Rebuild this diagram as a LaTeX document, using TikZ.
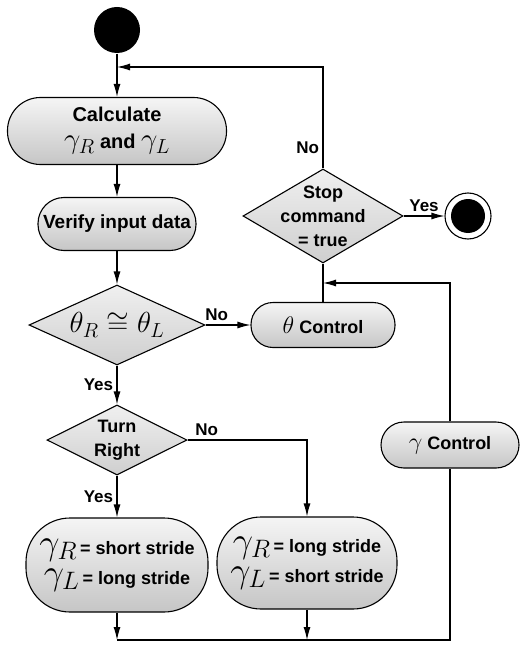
\RequirePackage{fix-cm}
\documentclass[tikz,border=0pt]{standalone}
\usepackage{fontspec}
\setmainfont{Liberation Sans}
\usetikzlibrary{shapes.geometric,arrows.meta}
\newcommand{\mth}[2][24]{{\fontsize{#1}{#1}\selectfont$#2$}}
\begin{document}
\begin{tikzpicture}[x=1pt,y=-1pt,line width=1.1pt,
    act/.style={draw,top color=gray!8,bottom color=gray!45,align=center,
      font=\fontsize{18}{22}\selectfont\bfseries,inner sep=2pt},
    dec/.style={diamond,draw,top color=gray!12,bottom color=gray!38,inner sep=0pt},
    dtxt/.style={align=center,font=\fontsize{18}{24}\selectfont\bfseries,inner sep=0pt},
    lbl/.style={font=\fontsize{17}{19}\selectfont\bfseries},
    arr/.style={-{Latex[length=13pt,width=7pt]}}]
    \useasboundingbox (0,0) rectangle (520,647);
    % left column
    \node[circle,fill=black,minimum size=46pt,inner sep=0pt] (start) at (117,30) {};
    \coordinate (back) at (117,67);
    \node[act,minimum width=219pt,minimum height=67pt,rounded corners=33pt,
        font=\fontsize{20}{27}\selectfont\bfseries] (calc) at (117,131)
        {Calculate\\\mth[29]{\gamma_R} and \mth[29]{\gamma_L}};
    \node[act,minimum width=158pt,minimum height=53pt,rounded corners=26pt,
        font=\fontsize{19}{22}\selectfont\bfseries] (verify) at (117,224) {Verify input data};
    \node[dec,minimum width=176pt,minimum height=80pt,
        label={[dtxt]center:{\fontsize{29}{29}\selectfont$\theta_R\cong\theta_L$}}] (theta) at (117,325) {};
    \node[dec,minimum width=140pt,minimum height=70pt,label={[dtxt]center:Turn\\Right}] (turn) at (117,440) {};
    \node[act,minimum width=182pt,minimum height=94pt,rounded corners=44pt,
        font=\fontsize{18}{30}\selectfont\bfseries] (short) at (117,565)
        {\mth[36]{\gamma_R}\,= short stride\\\mth[36]{\gamma_L}\,= long stride};
    \node[act,minimum width=180pt,minimum height=92pt,rounded corners=44pt,
        font=\fontsize{18}{30}\selectfont\bfseries] (long) at (307,563)
        {\mth[36]{\gamma_R}\,= long stride\\\mth[36]{\gamma_L}\,= short stride};
    % right column
    \node[act,minimum width=144pt,minimum height=45pt,rounded corners=22pt] (thetactl) at (323,325) {\mth{\theta} Control};
    \node[dec,minimum width=160pt,minimum height=94pt,label={[dtxt]center:Stop\\command\\= true}] (stop) at (323,216) {};
    \node[circle,draw,minimum size=46pt,inner sep=0pt,
        path picture={\fill (path picture bounding box.center) circle (17pt);}] (final) at (468,216) {};
    \node[act,minimum width=138pt,minimum height=46pt,rounded corners=23pt] (gammactl) at (450,445) {\mth{\gamma} Control};
    \coordinate (loop) at (323,283);
    \coordinate (b1) at (117,640);
    \coordinate (b2) at (307,640);
    \coordinate (b3) at (450,640);
    % connectors
    \draw (start) -- (back);
    \draw[arr] (back) -- (calc);
    \draw[arr] (calc) -- (verify);
    \draw[arr] (verify) -- (theta);
    \draw[arr] (theta) -- node[lbl,above,pos=0.25]{No} (thetactl);
    \draw (thetactl) -- (stop);
    \draw[arr] (stop) -- node[lbl,above]{Yes} (final);
    \draw[arr] (stop) |- node[lbl,left,pos=0.1]{No} (back);
    \draw[arr] (theta) -- node[lbl,left]{Yes} (turn);
    \draw[arr] (turn) -- node[lbl,left]{Yes} (short);
    \draw[arr] (turn) -| node[lbl,above,pos=0.08]{No} (long);
    \draw[arr] (short) -- (b1);
    \draw[arr] (long) -- (b2);
    \draw (b1) -- (b3) -- (gammactl);
    \draw[arr] (gammactl) |- (loop);
\end{tikzpicture}
\end{document}
